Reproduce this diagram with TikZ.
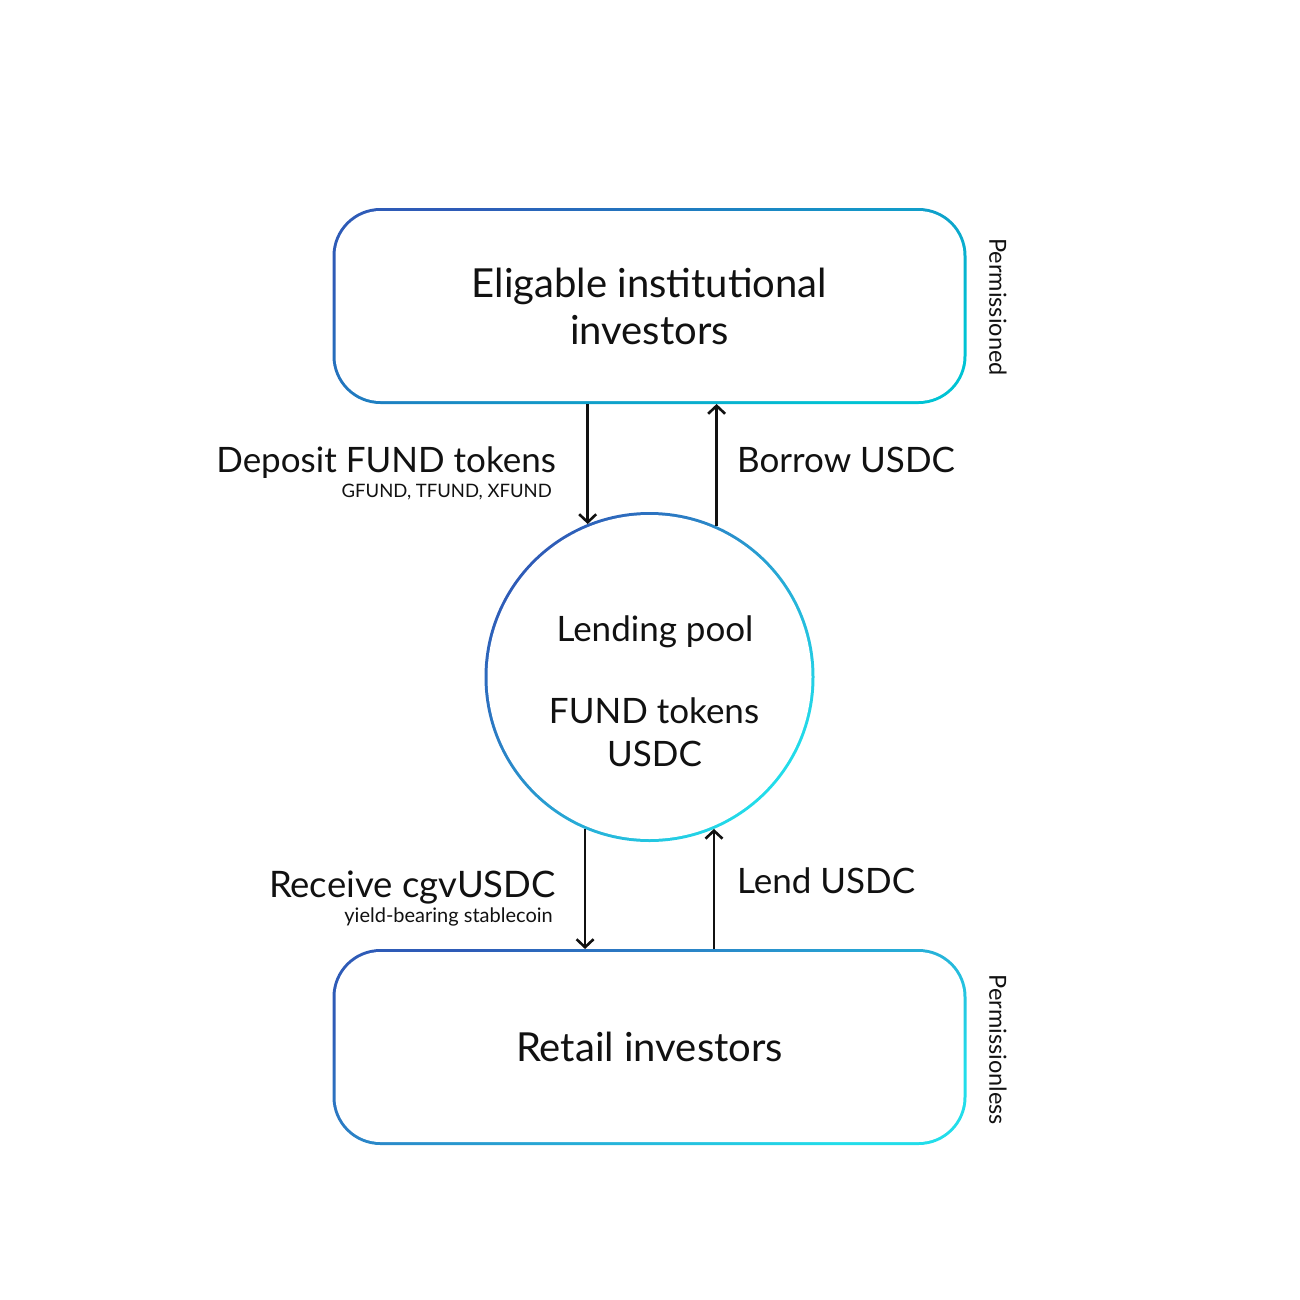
\documentclass[tikz,border=0pt]{standalone}
\usepackage{fontspec}
\setmainfont{Lato}
\usetikzlibrary{arrows.meta,calc,backgrounds}
\definecolor{gradA}{HTML}{2E5BB7}
\definecolor{gradB}{HTML}{00C3D4}
\definecolor{gradC}{HTML}{22DDEA}
\definecolor{ink}{HTML}{111111}
\tikzset{
  gradtop/.style={left color=gradA, right color=gradB, shading angle=30},
  gradbot/.style={left color=gradA, right color=gradC, shading angle=30},
  gradpool/.style={left color=gradA, right color=gradC, shading angle=50},
  boxnode/.style={rectangle, minimum width=634pt, minimum height=196pt, inner sep=0pt, outer sep=0pt, align=center, text=ink, font=\fontsize{40}{47}\selectfont},
  poolnode/.style={circle, minimum size=330pt, inner sep=0pt, outer sep=0pt},
  big/.style={text=ink, inner sep=0pt, font=\fontsize{35}{42}\selectfont},
  small/.style={text=ink, inner sep=0pt, font=\fontsize{18.5}{22}\selectfont},
  side/.style={text=ink, inner sep=0pt, rotate=-90, font=\fontsize{23.5}{28}\selectfont},
  arr/.style={draw=ink, line width=2.6pt, -{Straight Barb[length=8pt,width=17pt,line width=2.6pt]}}
}
\begin{document}
\begin{tikzpicture}[x=1pt,y=-1pt]
\useasboundingbox (0,0) rectangle (1300,1300);
% nodes
\node[boxnode] (top) at (649.5,306) {Eligable institutional\\investors};
\node[poolnode] (pool) at (649.5,677) {};
\node[boxnode] (bot) at (649.5,1047) {Retail investors};
% pool texts
\node[big, anchor=base] (t1) at (655,641) {Lending pool};
\node[big, anchor=base] (t2) at (654,723) {FUND tokens};
\node[big, anchor=base] (t3) at (654.5,766) {USDC};
% side labels
\node[side] (perm) at (998,307) {Permissioned};
\node[side] (perml) at (998,1050) {Permissionless};
% arrow labels
\node[big, anchor=base east] (dep) at (556,472) {Deposit FUND tokens};
\node[small, anchor=base east] (depsub) at (552,497) {GFUND, TFUND, XFUND};
\node[big, anchor=base west] (bor) at (737,472) {Borrow USDC};
\node[big, anchor=base east, font=\fontsize{36.5}{42}\selectfont] (rec) at (556,897) {Receive cgvUSDC};
\node[small, anchor=base east, font=\fontsize{20}{24}\selectfont] (recsub) at (553,922) {yield-bearing stablecoin};
\node[big, anchor=base west] (lend) at (737,893) {Lend USDC};
% connectors
\draw[arr] (top.south -| pool.112.8) -- (pool.112.8);
\draw[arr] (pool.66.6) -- (top.south -| pool.66.6);
\draw[arr] (pool.247.2) -- (bot.north -| pool.247.2);
\draw[arr] (bot.north -| pool.293.4) -- (pool.293.4);
% gradient outlines
\begin{scope}[on background layer]
  \shade[gradtop, rounded corners=48pt] (top.north west) rectangle (top.south east);
  \fill[white, rounded corners=45pt] ($(top.north west)+(3,3)$) rectangle ($(top.south east)+(-3,-3)$);
  \shade[gradbot, rounded corners=48pt] (bot.north west) rectangle (bot.south east);
  \fill[white, rounded corners=45pt] ($(bot.north west)+(3,3)$) rectangle ($(bot.south east)+(-3,-3)$);
  \shade[gradpool] (pool.center) circle[radius=165pt];
  \fill[white] (pool.center) circle[radius=162pt];
\end{scope}
\end{tikzpicture}
\end{document}
